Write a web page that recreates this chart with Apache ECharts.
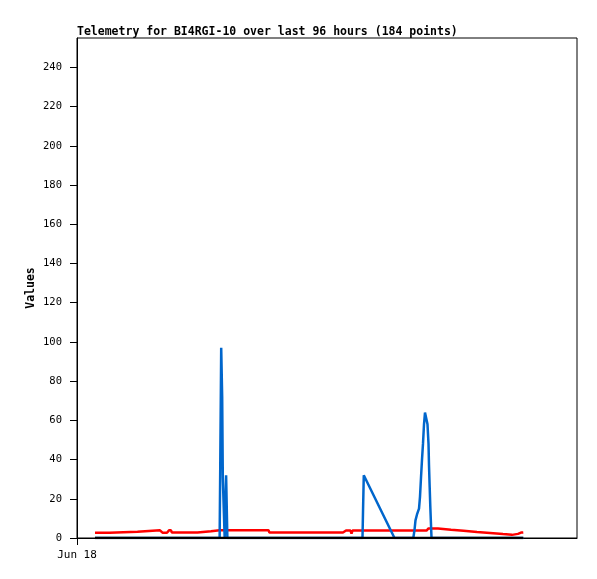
<!DOCTYPE html>
<html>
<head>
<meta charset="utf-8">
<script src="https://cdn.jsdelivr.net/npm/echarts@6/dist/echarts.min.js"></script>
<style>
html,body{margin:0;padding:0;background:#fff;}
#chart{width:597px;height:579px;}
</style>
</head>
<body>
<div id="chart"></div>
<script>
// x values: hours since Jun 18 00:00
var hours = [4.03,7.28,7.40,13.55,13.65,18.59,19.15,20.16,20.61,21.06,21.25,26.99,27.10,30.02,30.15,
  31.95,32.10,32.30,32.52,32.66,32.86,33.08,33.40,33.68,42.90,43.10,59.58,60.26,61.26,61.49,61.71,
  63.95,64.09,64.24,71.12,75.33,75.60,75.82,76.16,76.61,76.83,77.06,77.28,77.50,77.73,77.95,78.29,
  78.51,78.74,78.85,79.00,79.14,79.41,80.86,80.98,83.78,83.90,86.58,86.70,89.60,89.72,92.51,92.63,
  95.42,95.54,97.44,97.56,98.78,98.90,99.46,99.63,99.97];

var redValues = [2.7,2.7,3.2,3.2,3.9,3.9,2.7,2.7,3.9,3.9,2.8,2.8,3.4,3.4,3.9,
  3.9,3.9,3.9,3.9,3.9,3.9,3.9,3.9,3.9,3.9,2.8,2.8,3.8,3.8,2.3,3.8,
  3.8,3.8,3.8,3.8,3.8,3.8,3.8,3.8,3.8,3.8,3.8,3.8,3.8,3.8,3.8,3.8,
  3.8,4.85,4.85,4.85,4.85,4.85,4.85,4.25,4.25,3.7,3.7,3.1,3.1,2.6,2.6,2.0,
  2.0,1.6,1.6,2.1,2.1,2.75,2.75,3.75,2.85];

var blueValues = [0,0,0,0,0,0,0,0,0,0,0,0,0,0,0,
  0,40,97,72,31,16,0,32,0,0,0,0,0,0,0,0,
  0,16,32,0,0,4,9,12,15,21,31,40,48,58,64,64,
  58,48,37,26,16,0,0,0,0,0,0,0,0,0,0,0,
  0,0,0,0,0,0,0,0,0];

var blackValues = [0,0,0,0,0,0,0,0,0,0,0,0,0,0,0,
  0,0,0,0,0,0,0,0,0,0,0,0,0,0,0,0,
  0,0,0,0,0,0,0,0,0,0,0,0,0,0,0,0,
  0,0,0,0,0,0,0,0,0,0,0,0,0,0,0,0,
  0,0,0,0,0,0,0,0,0];

var yTicks = [0,20,40,60,80,100,120,140,160,180,200,220,240];
var xTicks = [0];
var xTickLabels = ['Jun 18'];
var titleText = 'Telemetry for BI4RGI-10 over last 96 hours (184 points)';
var yName = 'Values';

function pairs(vals){ return hours.map(function(h,i){ return [h, vals[i]]; }); }

var mono = '"DejaVu Sans Mono", "Liberation Mono", monospace';
var chart = echarts.init(document.getElementById('chart'));
chart.setOption({
  animation: false,
  backgroundColor: '#ffffff',
  title: {
    text: titleText, left: 77, top: 26, padding: 0,
    textStyle: { fontFamily: mono, fontSize: 11.5, fontWeight: 'bold', color: '#000' }
  },
  grid: { left: 77, right: 20, top: 38, bottom: 41, show: true, borderColor: '#000', borderWidth: 1 },
  xAxis: {
    type: 'value', min: 0, max: 112,
    splitLine: { show: false },
    axisLine: { lineStyle: { color: '#000', width: 1 } },
    axisTick: { customValues: xTicks, length: 7, lineStyle: { color: '#000' } },
    axisLabel: {
      customValues: xTicks, margin: 12,
      formatter: function(v){ var i = xTicks.indexOf(v); return i >= 0 ? xTickLabels[i] : ''; },
      fontFamily: mono, fontSize: 11, color: '#000'
    }
  },
  yAxis: {
    type: 'value', min: 0, max: 255,
    name: yName, nameLocation: 'middle', nameGap: 40, nameRotate: 90, nameMoveOverlap: false,
    nameTextStyle: { fontFamily: mono, fontSize: 11.5, fontWeight: 'bold', color: '#000' },
    splitLine: { show: false },
    axisLine: { show: true, lineStyle: { color: '#000', width: 1 } },
    axisTick: { show: true, customValues: yTicks, length: 7, lineStyle: { color: '#000' } },
    axisLabel: { customValues: yTicks, margin: 15, fontFamily: mono, fontSize: 10.5, color: '#000' }
  },
  series: [
    { type: 'line', data: pairs(redValues), showSymbol: false, lineStyle: { color: '#ff0000', width: 2.5 }, itemStyle: { color: '#ff0000' } },
    { type: 'line', data: pairs(blueValues), showSymbol: false, lineStyle: { color: '#0066cc', width: 2.5 }, itemStyle: { color: '#0066cc' } },
    { type: 'line', data: pairs(blackValues), showSymbol: false, lineStyle: { color: '#000000', width: 2.5 }, itemStyle: { color: '#000' } }
  ]
});
</script>
</body>
</html>
